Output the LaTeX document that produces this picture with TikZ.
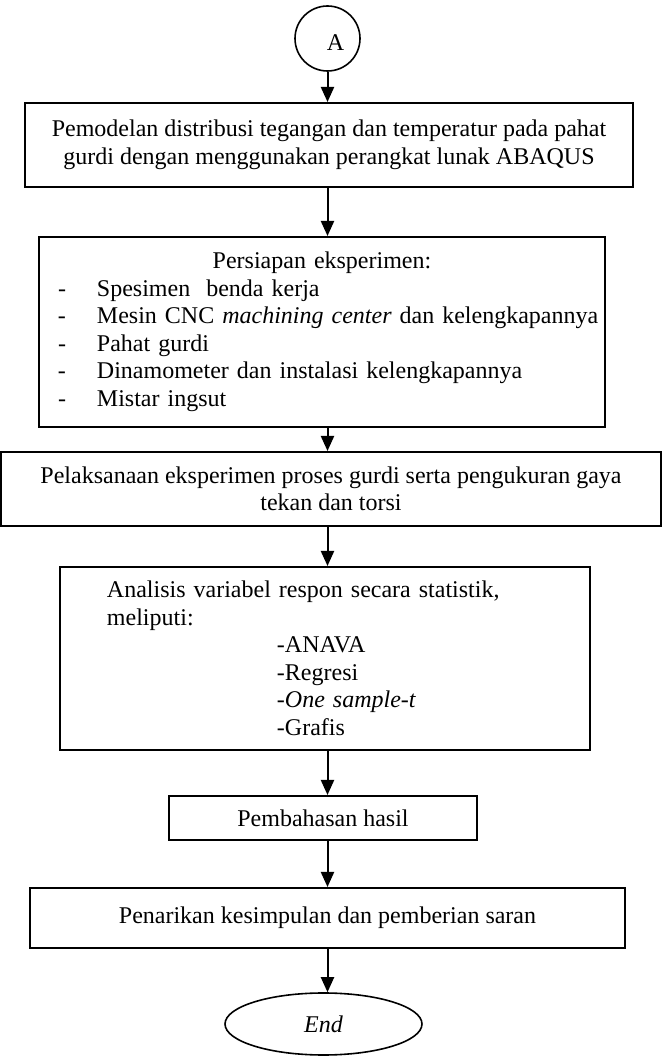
\documentclass[tikz,border=0pt]{standalone}
\usepackage{fontspec}
\setmainfont{Liberation Serif}
\usetikzlibrary{arrows.meta,shapes.geometric}

\begin{document}
\begin{tikzpicture}[>={Triangle[length=7.5pt,width=6.5pt]},font=\fontsize{12}{13.75}\selectfont,line cap=butt,
  kotak/.style={draw,line width=1pt,inner sep=0pt,align=center},
  daftar/.style={draw,line width=1pt,inner sep=0pt},
  panah/.style={->,line width=1pt}]
\useasboundingbox (0,0) rectangle (331pt,528.5pt);
\node[circle,draw,line width=0.8pt,minimum size=32.5pt,inner sep=0pt] (mulai) at (163.75pt,509.25pt) {\kern8pt\raisebox{-2pt}[8pt][0pt]{A}};
\node[kotak,minimum width=304pt,minimum height=42pt] (model) at (164.5pt,456pt) {Pemodelan distribusi tegangan dan temperatur pada pahat\\gurdi dengan menggunakan perangkat lunak ABAQUS};
\node[daftar,text width=283pt,minimum height=95pt] (siap) at (161pt,362.5pt) {{\centering Persiapan eksperimen:\par}\raggedright
\hspace*{9.5pt}\makebox[19.5pt][l]{-}Spesimen~ benda kerja\par
\hspace*{9.5pt}\makebox[19.5pt][l]{-}Mesin CNC \textit{machining center} dan kelengkapannya\par
\hspace*{9.5pt}\makebox[19.5pt][l]{-}Pahat gurdi\par
\hspace*{9.5pt}\makebox[19.5pt][l]{-}Dinamometer dan instalasi kelengkapannya\par
\hspace*{9.5pt}\makebox[19.5pt][l]{-}Mistar ingsut};
\node[kotak,minimum width=330pt,minimum height=37pt] (laksana) at (165.5pt,284pt) {Pelaksanaan eksperimen proses gurdi serta pengukuran gaya\\tekan dan torsi};
\node[daftar,text width=265pt,minimum height=91.5pt] (analisis) at (162.5pt,199.25pt) {\raggedright
\hspace*{23.5pt}Analisis variabel respon secara statistik,\par
\hspace*{23.5pt}meliputi:\par
\hspace*{108.5pt}-ANAVA\par
\hspace*{108.5pt}-Regresi\par
\hspace*{108.5pt}\textit{-One sample-t}\par
\hspace*{108.5pt}-Grafis};
\node[kotak,minimum width=154pt,minimum height=22pt] (bahas) at (161.5pt,119.5pt) {Pembahasan hasil};
\node[kotak,minimum width=297.5pt,minimum height=30pt] (simpul) at (163.75pt,69.5pt) {Penarikan kesimpulan dan pemberian saran};
\node[ellipse,draw,line width=0.8pt,minimum width=98.5pt,minimum height=31pt,inner sep=0pt] (selesai) at (161.75pt,16.5pt) {\textit{End}};
\draw[panah] (mulai) -- (mulai |- model.north);
\draw[panah] (model.south -| mulai) -- (siap.north -| mulai);
\draw[panah] (siap.south -| mulai) -- (laksana.north -| mulai);
\draw[panah] (laksana.south -| mulai) -- (analisis.north -| mulai);
\draw[panah] (analisis.south -| mulai) -- (bahas.north -| mulai);
\draw[panah] (bahas.south -| mulai) -- (simpul.north -| mulai);
\draw[panah] (simpul.south -| mulai) -- (selesai.north -| mulai);
\end{tikzpicture}
\end{document}
